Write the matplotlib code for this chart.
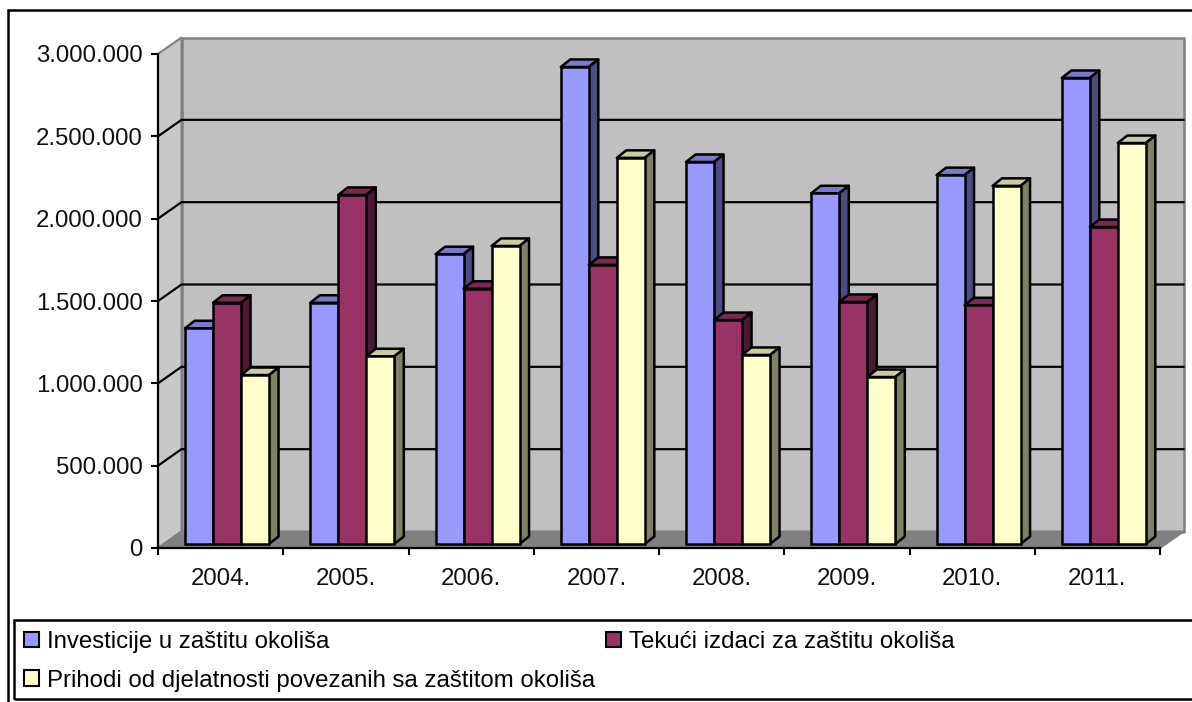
import numpy as np
import matplotlib
matplotlib.use('Agg')
import matplotlib.pyplot as plt
from matplotlib.patches import Polygon, Rectangle

plt.rcParams['font.family'] = ['Liberation Sans', 'DejaVu Sans']

# Values
years = ['2004.', '2005.', '2006.', '2007.', '2008.', '2009.', '2010.', '2011.']
investicije = [1310000, 1465000, 1760000, 2897000, 2320000, 2130000, 2240000, 2830000]
tekuci = [1465000, 2120000, 1550000, 1695000, 1360000, 1470000, 1450000, 1925000]
prihodi = [1026000, 1140000, 1810000, 2345000, 1148000, 1014000, 2175000, 2435000]
labels = ['Investicije u zaštitu okoliša', 'Tekući izdaci za zaštitu okoliša',
          'Prihodi od djelatnosti povezanih sa zaštitom okoliša']
yticks = [0, 500000, 1000000, 1500000, 2000000, 2500000, 3000000]
ytick_labels = ['0', '500.000', '1.000.000', '1.500.000', '2.000.000', '2.500.000', '3.000.000']

# front, top, side colours of each series
colors = [('#9999FF', '#7A7ACC', '#4C4C80'),
          ('#993366', '#7A2952', '#4C1933'),
          ('#FFFFCC', '#CCCCA3', '#808066')]

W, H = 1192, 702
fig = plt.figure(figsize=(W / 100, H / 100), dpi=100)
# front plane of the 3D box
left, right, top, bottom = 158, 1160, 54, 548
ax = fig.add_axes([left / W, 1 - bottom / H, (right - left) / W, (bottom - top) / H])
ax.set_xlim(0, len(years))
ax.set_ylim(0, 3000000)
ax.patch.set_visible(False)

# px to data
ux = len(years) / (right - left)
uy = 3000000 / (bottom - top)
wall_dx, wall_dy = 23.5 * ux, 16.5 * uy
bar_dx, bar_dy = 9.5 * ux, 7.5 * uy
base_dx, base_dy = 6 * ux, 4 * uy
bar_w = 28 * ux

n = len(years)
ymax = 3000000
lw_bar = 1.8
fs = 17.3


def poly(pts, fc, ec, z, lw=lw_bar):
    ax.add_patch(Polygon(pts, closed=True, facecolor=fc, edgecolor=ec, lw=lw, zorder=z,
                         clip_on=False, joinstyle='round'))


# walls and floor
poly([(0, 0), (wall_dx, wall_dy), (wall_dx, ymax + wall_dy), (0, ymax)], '#C8C8C8', '#808080', 1, lw=1.5)
poly([(wall_dx, wall_dy), (n + wall_dx, wall_dy), (n + wall_dx, ymax + wall_dy), (wall_dx, ymax + wall_dy)],
     '#C0C0C0', '#808080', 1, lw=1.8)
poly([(0, 0), (wall_dx, wall_dy), (n + wall_dx, wall_dy), (n, 0)], '#808080', '#808080', 1.5, lw=1.5)
for v in yticks[1:-1]:
    ax.plot([0, wall_dx, n + wall_dx], [v, v + wall_dy, v + wall_dy], color='black', lw=1.6,
            zorder=2, clip_on=False)

# bars, left to right so that each one overlaps the previous side face
z = 3
series = [investicije, tekuci, prihodi]
for i in range(n):
    x0 = i + 0.168
    for s, vals in enumerate(series):
        x = x0 + base_dx + s * bar_w
        v = vals[i]
        b = base_dy
        front, topc, side = colors[s]
        poly([(x, v + b), (x + bar_dx, v + b + bar_dy), (x + bar_w + bar_dx, v + b + bar_dy), (x + bar_w, v + b)],
             topc, 'black', z)
        poly([(x + bar_w, b), (x + bar_w + bar_dx, b + bar_dy), (x + bar_w + bar_dx, v + b + bar_dy), (x + bar_w, v + b)],
             side, 'black', z + 0.1)
        ax.bar(x, v, width=bar_w, bottom=b, align='edge', color=front, edgecolor='black', lw=lw_bar,
               zorder=z + 0.2, clip_on=False, label=labels[s] if i == 0 else None)
        z += 1

ax.set_yticks(yticks)
ax.set_yticklabels(ytick_labels)
ax.set_xticks(np.arange(n + 1))
ax.set_xticklabels([])
ax.set_xticks(np.arange(n) + 0.5, minor=True)
ax.set_xticklabels(years, minor=True)
ax.tick_params(axis='y', length=5, width=1.5, labelsize=fs, pad=6, labelcolor='#111111')
ax.tick_params(axis='x', which='major', length=5, width=1.5)
ax.tick_params(axis='x', which='minor', length=0, labelsize=fs, pad=14.5, labelcolor='#111111')
for side_name in ['top', 'right']:
    ax.spines[side_name].set_visible(False)
for side_name in ['left', 'bottom']:
    ax.spines[side_name].set_linewidth(1.6)
    ax.spines[side_name].set_zorder(100)

# outer chart frame and legend frame run off the right edge
fig.add_artist(Rectangle((8 / W, -0.01), 1.1, 1 - 10 / H + 0.01, transform=fig.transFigure, fill=False,
                         edgecolor='black', lw=1.8))
fig.add_artist(Rectangle((14 / W, 1 - 699 / H), 1.1, 79 / H, transform=fig.transFigure, fill=False,
                         edgecolor='black', lw=1.8))

# legend fills by column, so the third series goes under the first
handles, names = ax.get_legend_handles_labels()
order = [0, 2, 1]
leg = fig.legend([handles[k] for k in order], [names[k] for k in order], loc='upper left',
                 bbox_to_anchor=(17 / W, 1 - 624 / H), ncol=2, frameon=False,
                 fontsize=fs, handlelength=0.6, handleheight=0.6, handletextpad=0.36, columnspacing=0.45,
                 labelspacing=0.68, borderpad=0.3, borderaxespad=0)
for h in leg.legend_handles:
    h.set_linewidth(1.5)

fig.savefig('out.png', dpi=100)
